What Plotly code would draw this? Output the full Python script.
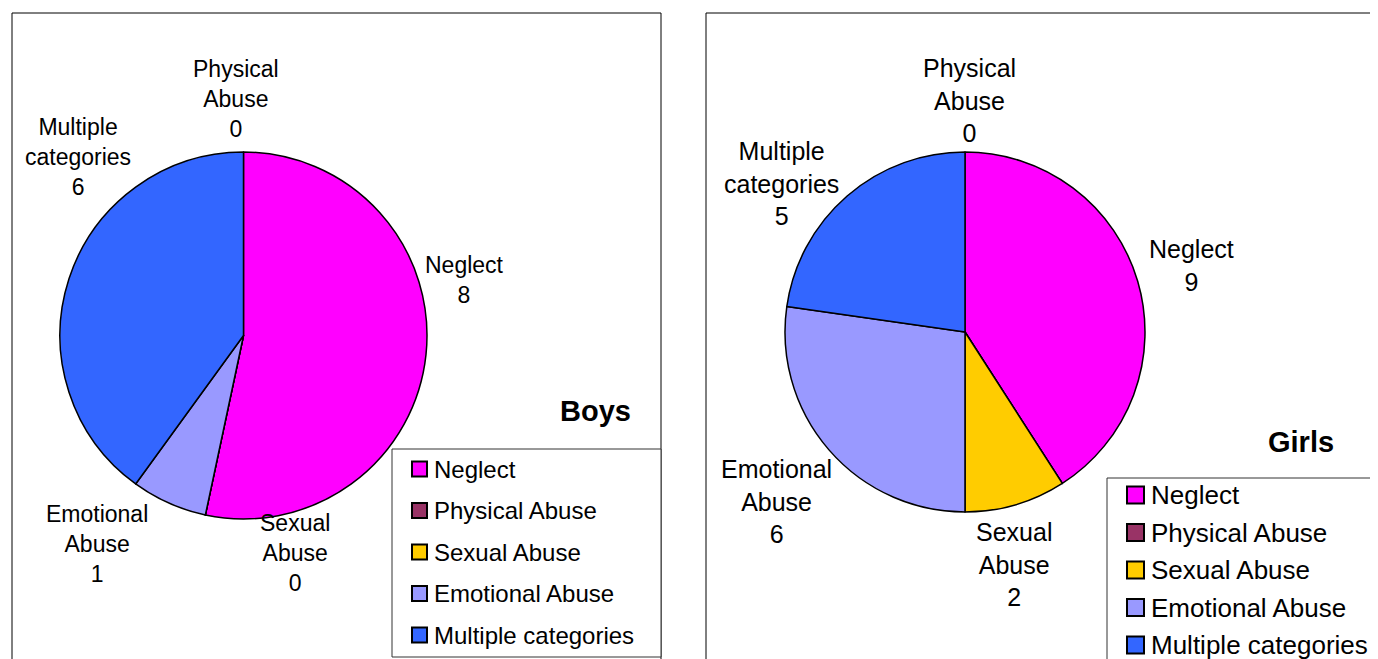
import plotly.graph_objects as go

W, H = 1378, 659
OFF = 8  # browser body margin
FW, FH = W, H - OFF

categories = ["Neglect", "Physical Abuse", "Sexual Abuse", "Emotional Abuse", "Multiple categories"]
label_text = ["Neglect", "Physical<br>Abuse", "Sexual<br>Abuse", "Emotional<br>Abuse", "Multiple<br>categories"]
boys_values = [8, 0, 0, 1, 6]
girls_values = [9, 0, 2, 6, 5]
colors = ["#FF00FF", "#993366", "#FFCC00", "#9999FF", "#3366FF"]
titles = ["Boys", "Girls"]

FONT = "Liberation Sans, Arial, sans-serif"


def px(x):
    return (x - OFF) / FW


def py(y):
    return 1 - (y - OFF) / FH


fig = go.Figure()

# pie layouts (center x, center y, radius) in screen pixels
pies = [
    dict(values=boys_values, cx=243.5, cy=335.5, r=183.5),
    dict(values=girls_values, cx=965, cy=332, r=180),
]
for p in pies:
    fig.add_trace(go.Pie(
        labels=categories,
        values=p["values"],
        sort=False,
        direction="clockwise",
        rotation=0,
        marker=dict(colors=colors, line=dict(color="black", width=1.5)),
        textinfo="none",
        showlegend=False,
        domain=dict(x=[px(p["cx"] - p["r"]), px(p["cx"] + p["r"])],
                    y=[py(p["cy"] + p["r"]), py(p["cy"] - p["r"])]),
    ))

annotations = []
shapes = []

# slice labels (positions per chart, text from data)
label_pos = [
    {"size": 23, "pos": [(464, 280), (236, 99), (295, 553), (97, 544), (78, 157)]},
    {"size": 25, "pos": [(1191, 265), (969, 101), (1014, 564), (777, 501), (781, 183)]},
]
for vals, lp in zip([boys_values, girls_values], label_pos):
    for txt, v, (x, y) in zip(label_text, vals, lp["pos"]):
        annotations.append(dict(
            x=px(x), y=py(y), xref="paper", yref="paper",
            text=f"{txt}<br>{v}", showarrow=False,
            xanchor="center", yanchor="middle", align="center",
            font=dict(family=FONT, size=lp["size"], color="black"),
        ))

# titles
for t, (x, y) in zip(titles, [(595, 411), (1301, 442)]):
    annotations.append(dict(
        x=px(x), y=py(y), xref="paper", yref="paper", text=f"<b>{t}</b>",
        showarrow=False, xanchor="center", yanchor="middle",
        font=dict(family=FONT, size=29, color="black"),
    ))

# panel borders
for x0, x1 in [(12, 661), (706, 1420)]:
    shapes.append(dict(type="rect", xref="paper", yref="paper",
                       x0=px(x0), x1=px(x1), y0=py(700), y1=py(13),
                       line=dict(color="black", width=1), fillcolor="rgba(0,0,0,0)"))

# legends
legends = [
    dict(box=(392, 449, 661, 657), sq_x=412, sq=15, text_x=432, y0=469, dy=41.5, size=24),
    dict(box=(1107, 478, 1420, 700), sq_x=1127, sq=17, text_x=1149, y0=495, dy=37.5, size=26),
]
for lg in legends:
    bx0, by0, bx1, by1 = lg["box"]
    shapes.append(dict(type="rect", xref="paper", yref="paper",
                       x0=px(bx0), x1=px(bx1), y0=py(by1), y1=py(by0),
                       line=dict(color="#333333", width=1), fillcolor="white"))
    for i, (cat, col) in enumerate(zip(categories, colors)):
        yc = lg["y0"] + i * lg["dy"]
        s = lg["sq"]
        shapes.append(dict(type="rect", xref="paper", yref="paper",
                           x0=px(lg["sq_x"]), x1=px(lg["sq_x"] + s),
                           y0=py(yc + s / 2), y1=py(yc - s / 2),
                           line=dict(color="black", width=2), fillcolor=col))
        annotations.append(dict(
            x=px(lg["text_x"]), y=py(yc), xref="paper", yref="paper", text=cat,
            showarrow=False, xanchor="left", yanchor="middle",
            font=dict(family=FONT, size=lg["size"], color="black"),
        ))

fig.update_layout(
    width=FW, height=FH,
    margin=dict(l=0, r=0, t=0, b=0),
    paper_bgcolor="white",
    plot_bgcolor="white",
    shapes=shapes,
    annotations=annotations,
)

fig.write_html("out.html")
